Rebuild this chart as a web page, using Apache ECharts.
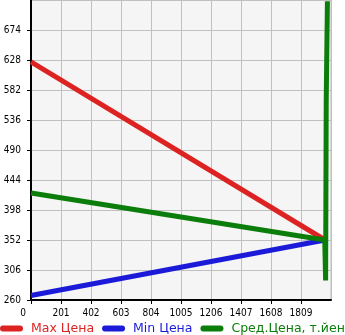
<!DOCTYPE html>
<html>
<head>
<meta charset="utf-8">
<script src="https://cdn.jsdelivr.net/npm/echarts@6/dist/echarts.min.js"></script>
<style>
  html, body { margin: 0; padding: 0; background: #fff; }
  #chart { width: 345px; height: 335px; }
</style>
</head>
<body>
<div id="chart"></div>
<script>
// Price history (mileage on x, price on y)
const seriesNames = ['Max Цена', 'Min Цена', 'Сред.Цена, т.йен'];
const seriesColors = ['#dd2222', '#1a1ad8', '#0a7d0a'];

const maxPrice = [[0, 625], [1970, 352]];
const minPrice = [[0, 267], [1970, 352]];
const avgPrice = [[0, 424], [1968, 352], [1974, 290], [1978, 565], [1986, 718]];

const xTicks = { min: 0, max: 2010, interval: 201 };
const yTicks = { min: 260, max: 720, interval: 46 };

const TICK_FONT = '"DejaVu Sans Condensed", "DejaVu Sans", sans-serif';
const LEGEND_FONT = '"DejaVu Sans", sans-serif';

const chart = echarts.init(document.getElementById('chart'), null, { renderer: 'canvas' });

const lineIcon = 'path://M3,0 L20,0 A3,3 0 0 1 20,6 L3,6 A3,3 0 0 1 3,0 Z';

chart.setOption({
  animation: false,
  textStyle: { fontFamily: TICK_FONT },
  grid: {
    left: 31, right: 14, top: 0, bottom: 35,
    show: true, backgroundColor: '#f5f5f5', borderColor: '#bbbbbb', borderWidth: 1
  },
  legend: {
    left: 0, top: 322, width: 500, padding: 0,
    itemWidth: 23, itemHeight: 6, itemGap: 8,
    icon: lineIcon,
    textStyle: { fontSize: 12.5, fontFamily: LEGEND_FONT, padding: [0, 0, 0, 3] },
    data: seriesNames.map((n, i) => ({ name: n, textStyle: { color: seriesColors[i] } }))
  },
  xAxis: {
    type: 'value',
    min: xTicks.min, max: xTicks.max, interval: xTicks.interval,
    axisLine: { show: true, onZero: false, lineStyle: { color: '#000', width: 2 } },
    axisTick: { show: true, length: 4, lineStyle: { color: '#000', width: 1 } },
    splitLine: { show: true, lineStyle: { color: '#c0c0c0', width: 1 } },
    axisLabel: {
      color: '#000', fontSize: 10, fontFamily: TICK_FONT, margin: 8, showMaxLabel: false,
      formatter: v => v === 0 ? '{z|0}' : String(v),
      rich: { z: { padding: [0, 16, 0, 0], fontSize: 10, fontFamily: TICK_FONT, color: '#000' } }
    }
  },
  yAxis: {
    type: 'value',
    min: yTicks.min, max: yTicks.max, interval: yTicks.interval,
    axisLine: { show: true, lineStyle: { color: '#000', width: 2 } },
    axisTick: { show: true, length: 4, lineStyle: { color: '#000', width: 1 } },
    splitLine: { show: true, lineStyle: { color: '#c0c0c0', width: 1 } },
    axisLabel: { color: '#000', fontSize: 10, fontFamily: TICK_FONT, margin: 10, showMaxLabel: false }
  },
  series: [
    { name: seriesNames[0], type: 'line', data: maxPrice, showSymbol: false, symbol: 'none',
      color: seriesColors[0], lineStyle: { width: 5, color: seriesColors[0] } },
    { name: seriesNames[1], type: 'line', data: minPrice, showSymbol: false, symbol: 'none',
      color: seriesColors[1], lineStyle: { width: 5, color: seriesColors[1] } },
    { name: seriesNames[2], type: 'line', data: avgPrice, showSymbol: false, symbol: 'none',
      color: seriesColors[2], lineStyle: { width: 5, color: seriesColors[2] } }
  ]
});
</script>
</body>
</html>
